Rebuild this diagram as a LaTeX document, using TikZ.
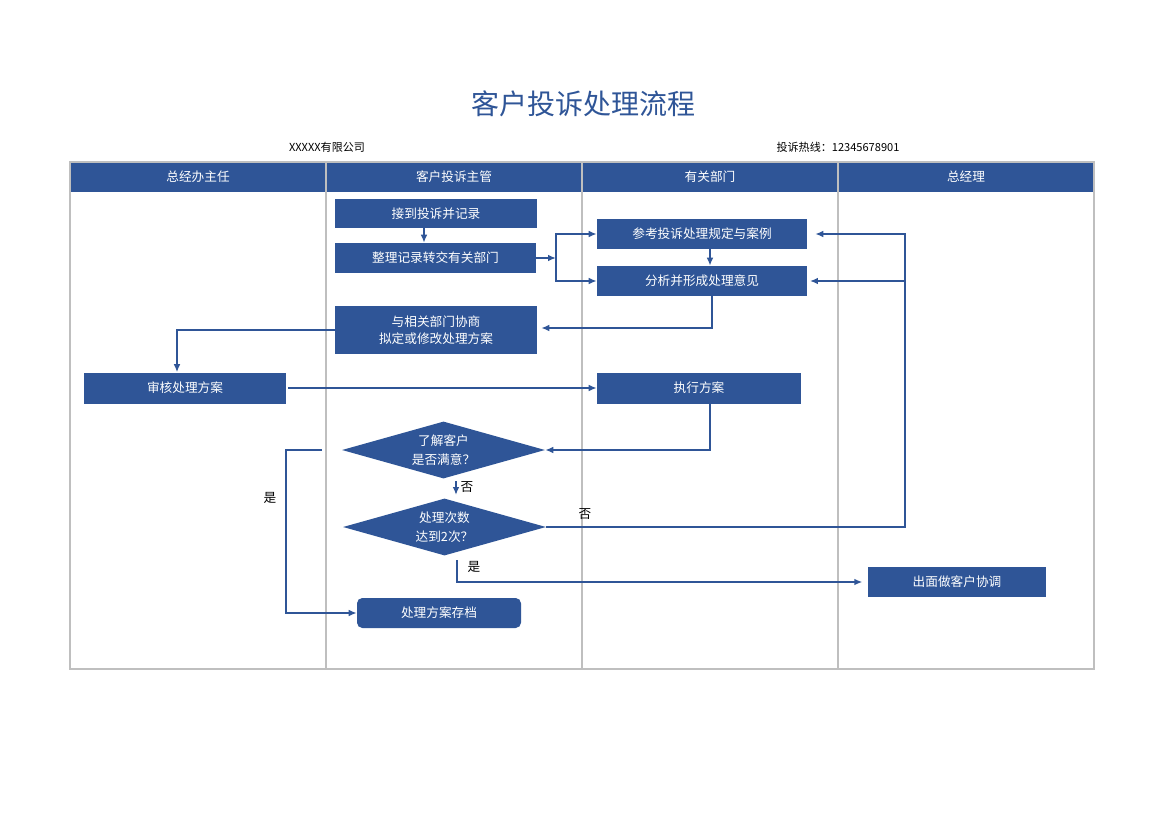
\documentclass[tikz,border=0pt]{standalone}
\usepackage{fontspec}
\setmainfont{Noto Sans CJK SC}
\usetikzlibrary{shapes.geometric,arrows.meta}
\definecolor{mainblue}{HTML}{2F5597}
\definecolor{gridgray}{HTML}{BFBFBF}
\newcommand\pxu{0.75pt}
\begin{document}
\begin{tikzpicture}[x=0.75pt,y=-0.75pt,
  txt/.style={font=\fontsize{9.5}{13}\selectfont},
  box/.style={txt,fill=mainblue,text=white,inner sep=0pt,align=center},
  dia/.style={font=\fontsize{9.5}{14}\selectfont,diamond,fill=mainblue,text=white,inner sep=0pt,aspect=3.56,align=center,
    minimum width=203*\pxu,minimum height=57*\pxu},
  head/.style={txt,text=white},
  conn/.style={draw=mainblue,line width=1.25pt,-{Latex[length=6pt,width=5pt]}},
  lbl/.style={txt,text=black}
]
\useasboundingbox (0,0) rectangle (1170,827);
\fill[white] (0,0) rectangle (1170,827);

% title and sub-header
\node[text=mainblue,font=\fontsize{21}{25}\selectfont] (title) at (583,104) {客户投诉处理流程};
\node[font=\fontsize{8.3}{10}\selectfont] (company) at (327,147) {XXXXX有限公司};
\node[font=\fontsize{8.3}{10}\selectfont] (hotline) at (838,147) {投诉热线：12345678901};

% swimlane table
\fill[mainblue] (70,162) rectangle (1094,192);
\draw[gridgray,line width=0.9pt] (70,162) rectangle (1094,669);
\foreach \xx in {326,582,838} \draw[gridgray,line width=0.9pt] (\xx,162) -- (\xx,669);
\node[head] (h1) at (198,177) {总经办主任};
\node[head] (h2) at (454,177) {客户投诉主管};
\node[head] (h3) at (710,177) {有关部门};
\node[head] (h4) at (966,177) {总经理};

% nodes
\node[box,minimum width=202*\pxu,minimum height=29*\pxu] (n1) at (436,213.5) {接到投诉并记录};
\node[box,minimum width=201*\pxu,minimum height=30*\pxu] (n2) at (435.5,258) {整理记录转交有关部门};
\node[box,minimum width=210*\pxu,minimum height=30*\pxu] (n3) at (702,234) {参考投诉处理规定与案例};
\node[box,minimum width=210*\pxu,minimum height=30*\pxu] (n4) at (702,281) {分析并形成处理意见};
\node[box,minimum width=202*\pxu,minimum height=48*\pxu] (n5) at (436,330) {与相关部门协商\\拟定或修改处理方案};
\node[box,minimum width=202*\pxu,minimum height=31*\pxu] (n6) at (185,388) {审核处理方案};
\node[box,minimum width=204*\pxu,minimum height=31*\pxu] (n7) at (699,388) {执行方案};
\node[dia] (d1) at (443.5,450) {了解客户\\是否满意？};
\node[dia] (d2) at (444.5,527) {处理次数\\达到2次？};
\node[box,rounded corners=4pt,minimum width=164*\pxu,minimum height=30*\pxu] (n8) at (439,613) {处理方案存档};
\node[box,minimum width=178*\pxu,minimum height=30*\pxu] (n9) at (957,582) {出面做客户协调};

% helper coordinates
\coordinate (c424) at (424,0);
\coordinate (c710) at (710,0);
\coordinate (c712) at (712,0);
\coordinate (c177) at (177,0);
\coordinate (c905) at (905,0);
\coordinate (split) at (556,258);
\coordinate (y1s) at (322,450);
\coordinate (y1b) at (286,450);
\coordinate (no1a) at (456,481);
\coordinate (no1b) at (456,495);
\coordinate (y2s) at (457,560);

% connectors
\draw[conn] (n1.south -| c424) -- (n2.north -| c424);
\draw[conn] (n2.east) -- (split);
\draw[conn] (split) |- (n3.west);
\draw[conn] (split) |- (n4.west);
\draw[conn] (n3.south -| c710) -- (n4.north -| c710);
\draw[conn,shorten >=3pt] (n4.south -| c712) |- ([yshift=1.5pt]n5.east);
\draw[conn] (n5.west) -| (n6.north -| c177);
\draw[conn,shorten <=1.5pt] (n6.east) -- (n7.west);
\draw[conn] (n7.south -| c710) |- (d1.east);
\draw[conn] (y1s) -- (y1b) |- (n8.west);
\draw[conn] (no1a) -- (no1b);
\draw[conn,shorten >=6pt] (d2.east) -- (c905 |- d2.east) |- (n3.east);
\draw[conn,shorten >=2pt] (c905 |- n4.east) -- (n4.east);
\draw[conn,shorten >=4pt] (y2s) |- (n9.west);

% labels
\node[lbl] (l1) at (270,498) {是};
\node[lbl] (l2) at (467,487) {否};
\node[lbl] (l3) at (585,514) {否};
\node[lbl] (l4) at (474,567) {是};
\end{tikzpicture}
\end{document}
